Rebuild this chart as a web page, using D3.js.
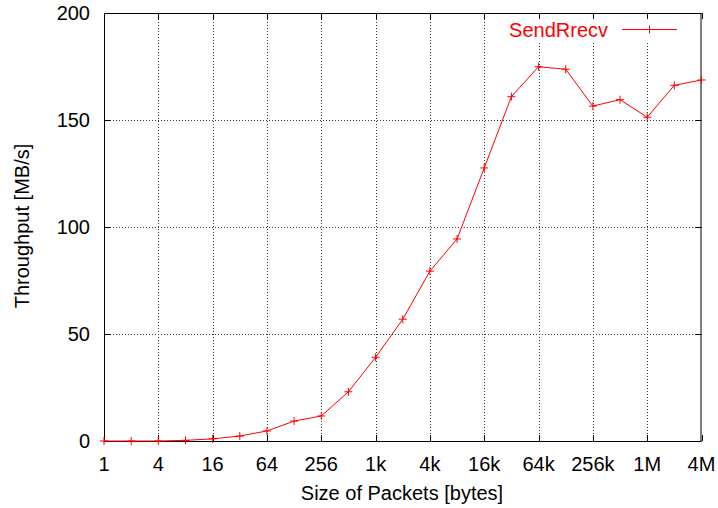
<!DOCTYPE html>
<html><head><meta charset="utf-8">
<script src="https://cdn.jsdelivr.net/npm/d3@7"></script>
<style>body{margin:0;background:#fff}svg{display:block}text{font-family:"Liberation Sans",Arial,sans-serif}</style>
</head><body>
<svg id="c" width="718" height="508"></svg>
<script>
const sizes = [1,2,4,8,16,32,64,128,256,512,1024,2048,4096,8192,16384,32768,65536,131072,262144,524288,1048576,2097152,4194304];
const throughput = [0,0,0,0.3,1.0,2.3,4.7,9.3,11.7,23.0,39.1,56.9,79.4,94.4,127.6,160.9,174.9,173.7,156.5,159.5,151.3,166.2,168.7];
const xTicks = [1,4,16,64,256,1024,4096,16384,65536,262144,1048576,4194304];
const xTickLabels = ["1","4","16","64","256","1k","4k","16k","64k","256k","1M","4M"];
const yTicks = [0,50,100,150,200];
const seriesName = "SendRrecv";

const svg = d3.select("#c");
const L=104, R=701.5, T=13, B=441;
const x = d3.scaleLog().base(2).domain([1,4194304]).range([L,R]);
const y = d3.scaleLinear().domain([0,200]).range([B,T]);
const fs = 20;

// grid
const grid = svg.append("g").attr("stroke","#333").attr("stroke-width",1).attr("stroke-dasharray","1,2");
xTicks.slice(1,-1).forEach(v=>{grid.append("line").attr("x1",Math.round(x(v))+0.5).attr("x2",Math.round(x(v))+0.5).attr("y1",T).attr("y2",B);});
yTicks.slice(1,-1).forEach(v=>{grid.append("line").attr("y1",Math.round(y(v))+0.5).attr("y2",Math.round(y(v))+0.5).attr("x1",L).attr("x2",R);});

// legend background (hides grid)
svg.append("rect").attr("x",504).attr("y",19).attr("width",178).attr("height",22).attr("fill","#fff");

// frame
svg.append("rect").attr("x",L+0.5).attr("y",T+0.5).attr("width",R-L-1).attr("height",B-T).attr("fill","none").attr("stroke","#000").attr("stroke-width",1);

// ticks (mirrored, inward)
const tk = svg.append("g").attr("stroke","#000").attr("stroke-width",1);
const tl=6;
xTicks.forEach(v=>{const px=Math.round(x(v))+0.5;
  tk.append("line").attr("x1",px).attr("x2",px).attr("y1",B).attr("y2",B-tl);
  tk.append("line").attr("x1",px).attr("x2",px).attr("y1",T).attr("y2",T+tl);});
yTicks.forEach(v=>{const py=Math.round(y(v))+0.5;
  tk.append("line").attr("x1",L).attr("x2",L+tl).attr("y1",py).attr("y2",py);
  tk.append("line").attr("x1",R).attr("x2",R-tl).attr("y1",py).attr("y2",py);});

// tick labels
xTicks.forEach((v,i)=>{svg.append("text").attr("x",x(v)).attr("y",471).attr("text-anchor","middle").attr("font-size",fs).attr("fill","#000").text(xTickLabels[i]);});
yTicks.forEach(v=>{svg.append("text").attr("x",90).attr("y",y(v)+7).attr("text-anchor","end").attr("font-size",fs).attr("fill","#000").text(v);});

// axis titles
svg.append("text").attr("x",402).attr("y",500).attr("text-anchor","middle").attr("font-size",fs).text("Size of Packets [bytes]");
svg.append("text").attr("transform","translate(29,226) rotate(-90)").attr("text-anchor","middle").attr("font-size",fs).text("Throughput [MB/s]");

// series
const red="#ff0000";
const line = d3.line().x((d,i)=>x(sizes[i])).y(d=>y(d));
svg.append("path").datum(throughput).attr("d",line).attr("fill","none").attr("stroke",red).attr("stroke-width",1);
const ms=4;
function plus(g,cx,cy){g.append("path").attr("d",`M${cx-ms},${cy}H${cx+ms}M${cx},${cy-ms}V${cy+ms}`).attr("stroke",red).attr("stroke-width",1).attr("fill","none");}
const pts = svg.append("g");
throughput.forEach((d,i)=>plus(pts,x(sizes[i]),y(d)));

// legend
svg.append("text").attr("x",608).attr("y",36.5).attr("text-anchor","end").attr("font-size",fs).attr("fill",red).text(seriesName);
svg.append("line").attr("x1",622).attr("x2",677).attr("y1",29.5).attr("y2",29.5).attr("stroke",red).attr("stroke-width",1);
plus(svg,649.5,29.5);
</script>
</body></html>
